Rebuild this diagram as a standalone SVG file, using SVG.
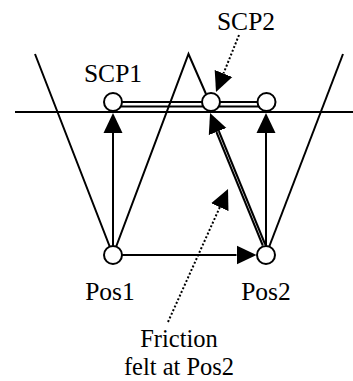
<svg xmlns="http://www.w3.org/2000/svg" width="353" height="381" viewBox="0 0 353 381">
  <style>
    .ln { stroke: #000; stroke-width: 2; fill: none; }
    .dot { stroke: #000; stroke-width: 2; fill: none; stroke-dasharray: 2 2; }
    .nd { stroke: #000; stroke-width: 2; fill: #fff; }
    text { fill: #000; font-family: "Liberation Serif", "Tinos", "Times New Roman", Times, "DejaVu Serif", "Noto Serif", serif; }
  </style>
  <defs>
    <marker id="ah" viewBox="0 0 20 20" refX="0" refY="10" markerWidth="20" markerHeight="20" markerUnits="userSpaceOnUse" orient="auto">
      <path d="M0,0.5 L20,10 L0,19.5 Z" fill="#000"/>
    </marker>
  </defs>
  <rect width="353" height="381" fill="#fff"/>
  <g id="connectors">
    <line class="ln" x1="15" y1="112" x2="353" y2="112"/>
    <polyline class="ln" points="35,54 113,255 188.5,54 206,94"/>
    <line class="ln" x1="266" y1="255" x2="343" y2="54"/>
    <line class="ln" x1="113" y1="102" x2="266" y2="102"/>
    <line class="ln" x1="113" y1="106.5" x2="266" y2="106.5"/>
    <line class="ln" x1="113" y1="246" x2="113" y2="133" marker-end="url(#ah)"/>
    <line class="ln" x1="266" y1="246" x2="266" y2="133" marker-end="url(#ah)"/>
    <line class="ln" x1="122" y1="255" x2="236.5" y2="255" marker-end="url(#ah)"/>
    <line class="ln" x1="265.2" y1="244.5" x2="218.8" y2="131"/>
    <line class="ln" x1="262.8" y1="245.5" x2="216.4" y2="132"/>
    <path d="M264,245 L217.6,131.5" stroke="none" fill="none" marker-end="url(#ah)"/>
    <line class="dot" x1="239" y1="35" x2="223.5" y2="73.5" marker-end="url(#ah)"/>
    <line class="dot" x1="168" y1="322" x2="219.8" y2="207.2" marker-end="url(#ah)"/>
  </g>
  <g font-size="25.5">
    <g id="SCP1"><circle class="nd" cx="113" cy="102" r="9"/><text x="113" y="82" text-anchor="middle">SCP1</text></g>
    <g id="SCP2"><circle class="nd" cx="211" cy="102" r="9"/><text x="246" y="29.5" text-anchor="middle">SCP2</text></g>
    <g id="SCP3"><circle class="nd" cx="266.5" cy="102" r="9"/></g>
    <g id="Pos1"><circle class="nd" cx="113" cy="255" r="9"/><text x="110" y="300" text-anchor="middle">Pos1</text></g>
    <g id="Pos2"><circle class="nd" cx="266" cy="255" r="9"/><text x="266" y="300" text-anchor="middle">Pos2</text></g>
    <g id="friction" font-size="24.5">
      <text x="179" y="347" text-anchor="middle">Friction</text>
      <text x="179" y="375" text-anchor="middle">felt at Pos2</text>
    </g>
  </g>
</svg>
